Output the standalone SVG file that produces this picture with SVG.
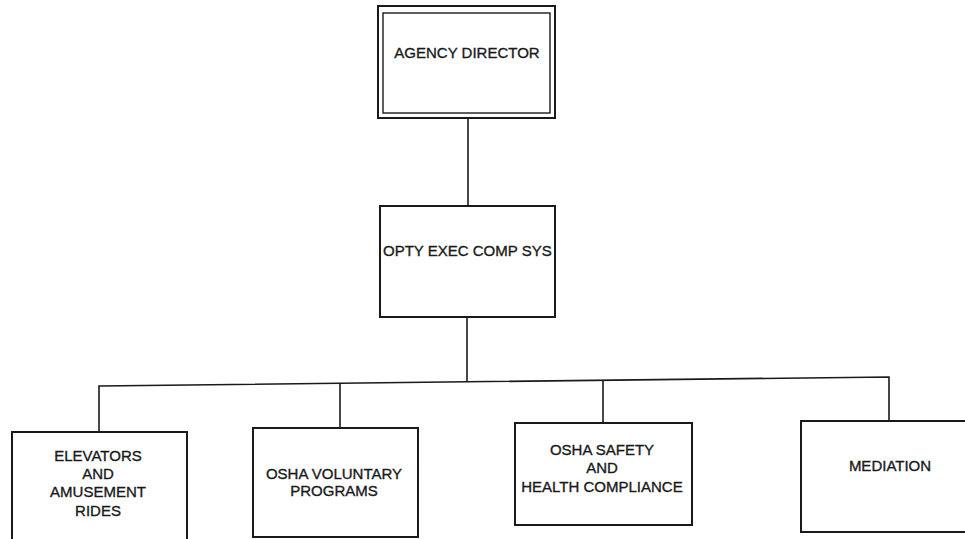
<svg xmlns="http://www.w3.org/2000/svg" width="965" height="539" viewBox="0 0 965 539">
  <style>
    .box { fill: #ffffff; stroke: #1a1a1a; stroke-width: 2; }
    .inner { fill: none; stroke: #1a1a1a; stroke-width: 1.4; }
    .link { fill: none; stroke: #1a1a1a; stroke-width: 1.6; }
    text { font-family: "Liberation Sans", Arial, sans-serif; font-size: 15px; fill: #1a1a1a; stroke: #1a1a1a; stroke-width: 0.35; }
    .c { text-anchor: middle; }
  </style>
  <rect width="965" height="539" fill="#ffffff"/>

  <!-- connectors -->
  <g id="connectors">
    <line class="link" x1="468" y1="118" x2="468" y2="206"/>
    <line class="link" x1="467" y1="317" x2="467" y2="381"/>
    <polyline class="link" points="99,432 99,386 889,377 889,421"/>
    <line class="link" x1="340" y1="384" x2="340" y2="428"/>
    <line class="link" x1="603" y1="381" x2="603" y2="423"/>
  </g>

  <!-- top: double-ruled box -->
  <g id="agency-director">
    <rect class="box" x="378" y="6" width="177" height="112"/>
    <rect class="inner" x="383" y="13" width="167" height="100"/>
    <text class="c" x="467" y="58">AGENCY DIRECTOR</text>
  </g>

  <g id="opty-exec">
    <rect class="box" x="380" y="206" width="175" height="111"/>
    <text x="383" y="256">OPTY EXEC COMP SYS</text>
  </g>

  <g id="elevators">
    <rect class="box" x="12" y="432" width="175" height="120"/>
    <text class="c" x="98" y="461">ELEVATORS</text>
    <text class="c" x="98" y="479">AND</text>
    <text class="c" x="98" y="497">AMUSEMENT</text>
    <text class="c" x="98" y="516">RIDES</text>
  </g>

  <g id="osha-voluntary">
    <rect class="box" x="253" y="428" width="165" height="109"/>
    <text class="c" x="334" y="479">OSHA VOLUNTARY</text>
    <text class="c" x="334" y="496">PROGRAMS</text>
  </g>

  <g id="osha-safety">
    <rect class="box" x="515" y="423" width="177" height="102"/>
    <text class="c" x="602" y="455">OSHA SAFETY</text>
    <text class="c" x="602" y="473">AND</text>
    <text class="c" x="602" y="492">HEALTH COMPLIANCE</text>
  </g>

  <g id="mediation">
    <rect class="box" x="801" y="421" width="180" height="111"/>
    <text class="c" x="890" y="471">MEDIATION</text>
  </g>
</svg>
